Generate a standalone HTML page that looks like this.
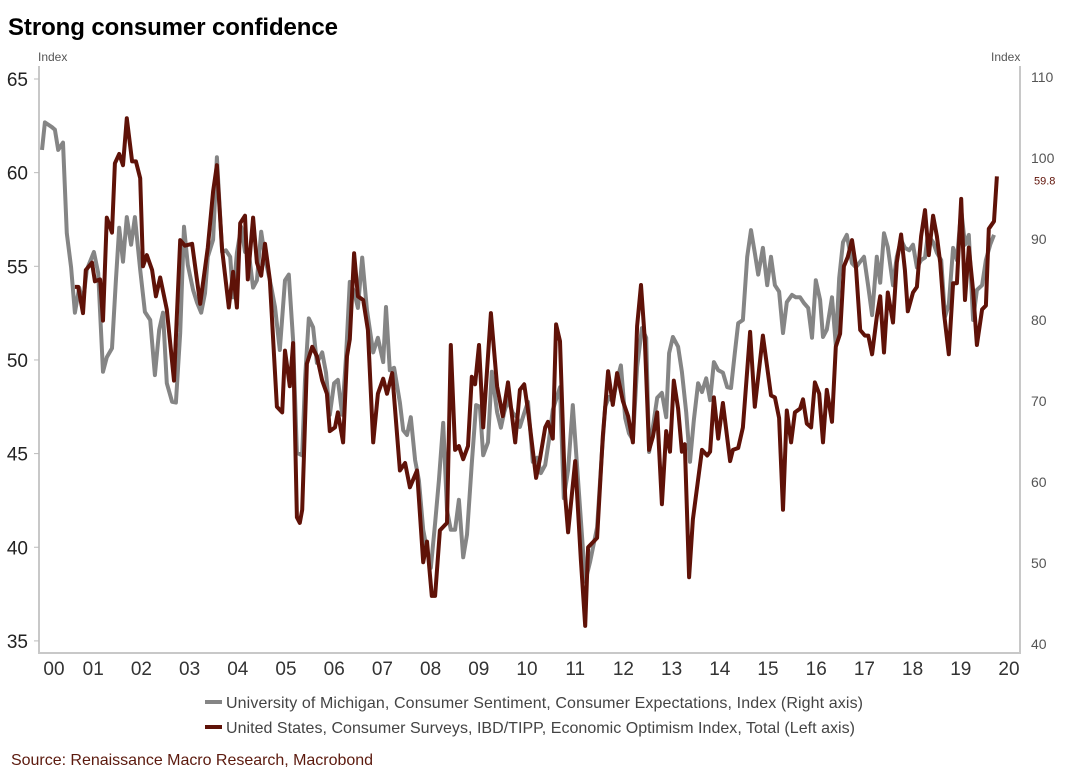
<!DOCTYPE html>
<html><head><meta charset="utf-8"><style>
body{margin:0;background:#fff;width:1069px;height:782px;overflow:hidden;font-family:"Liberation Sans",sans-serif}
svg{position:absolute;left:0;top:0}
</style></head><body>
<svg id="c" width="1069" height="782">
<text x="8" y="35" font-size="24" font-weight="bold" fill="#000" textLength="330">Strong consumer confidence</text>
<text x="38" y="61" font-size="12" fill="#555">Index</text>
<text x="991" y="61" font-size="12" fill="#555">Index</text>
<line x1="39" y1="66" x2="39" y2="653" stroke="#c8c8c8" stroke-width="2"/>
<line x1="1020" y1="66" x2="1020" y2="653" stroke="#c8c8c8" stroke-width="2"/>
<line x1="38" y1="653" x2="1021" y2="653" stroke="#c8c8c8" stroke-width="2"/>
<g id="ticks"></g>
<g id="series"></g>
<g>
<rect x="205" y="700" width="17" height="4" fill="#858585"/>
<text x="226" y="708" font-size="16" fill="#444" textLength="637">University of Michigan, Consumer Sentiment, Consumer Expectations, Index (Right axis)</text>
<rect x="205" y="725" width="17" height="4" fill="#5f1208"/>
<text x="226" y="733" font-size="16" fill="#444" textLength="629">United States, Consumer Surveys, IBD/TIPP, Economic Optimism Index, Total (Left axis)</text>
</g>
<text x="11" y="765" font-size="16" fill="#5c1a0e" textLength="362">Source: Renaissance Macro Research, Macrobond</text>
</svg>
<script>
const leftTicks=[35,40,45,50,55,60,65];
const rightTicks=[40,50,60,70,80,90,100,110];
const yearLabels=["00","01","02","03","04","05","06","07","08","09","10","11","12","13","14","15","16","17","18","19","20"];
const ibdDates=[.69,.76,.86,.92,1.05,1.11,1.22,1.28,1.36,1.47,1.53,1.62,1.70,1.78,1.89,1.97,2.06,2.12,2.20,2.31,2.39,2.48,2.62,2.77,2.90,3.00,3.15,3.32,3.48,3.59,3.67,3.78,3.92,4.01,4.09,4.16,4.26,4.32,4.43,4.51,4.60,4.68,4.78,4.93,5.04,5.10,5.20,5.27,5.35,5.41,5.46,5.56,5.67,5.77,5.88,5.98,6.04,6.15,6.21,6.32,6.40,6.46,6.55,6.63,6.74,6.84,6.95,7.05,7.16,7.24,7.35,7.51,7.62,7.72,7.87,8.00,8.08,8.18,8.25,8.35,8.50,8.58,8.67,8.75,8.84,8.94,9.02,9.09,9.17,9.26,9.42,9.55,9.67,9.78,9.93,10.03,10.12,10.20,10.37,10.45,10.56,10.62,10.72,10.79,10.87,10.98,11.04,11.19,11.31,11.40,11.46,11.65,11.77,11.88,11.98,12.07,12.19,12.30,12.40,12.49,12.57,12.65,12.74,12.82,12.91,13.01,13.10,13.18,13.26,13.35,13.43,13.49,13.58,13.66,13.85,13.96,14.02,14.10,14.19,14.29,14.44,14.50,14.61,14.71,14.86,14.96,15.13,15.30,15.38,15.47,15.55,15.63,15.72,15.80,15.91,15.97,16.05,16.14,16.22,16.31,16.39,16.47,16.58,16.66,16.75,16.83,16.91,17.00,17.08,17.17,17.27,17.34,17.42,17.52,17.59,17.67,17.75,17.86,17.94,18.03,18.11,18.17,18.28,18.36,18.45,18.53,18.61,18.70,18.78,18.85,18.93,19.03,19.12,19.20,19.29,19.37,19.45,19.54,19.62,19.73,19.81,19.87,19.98,20.04];
const ibdValues=[53.9,53.9,52.5,54.8,55.2,54.2,54.3,52.1,57.6,56.8,60.5,61.0,60.4,62.9,60.6,60.6,59.7,55.0,55.6,54.8,53.4,54.4,52.7,48.9,56.4,56.1,56.2,53.0,56.0,59.0,60.4,55.9,52.8,54.7,52.8,57.3,57.7,54.3,57.6,55.2,54.5,56.2,54.3,47.5,47.2,50.5,48.6,50.9,41.6,41.3,42.0,49.8,50.7,50.2,48.9,48.2,46.2,46.4,47.2,45.6,50.2,51.1,55.7,53.4,53.2,51.6,45.6,48.2,49.0,48.2,49.3,44.1,44.5,43.2,44.1,39.2,40.3,37.4,37.4,40.9,41.3,50.8,45.2,45.4,44.7,45.4,49.1,48.7,50.8,46.4,52.5,48.6,47.0,48.8,45.6,48.4,48.7,47.3,43.7,44.7,46.4,46.7,45.8,51.9,51.0,42.7,40.8,44.6,39.3,35.8,40.0,40.5,45.9,49.4,47.6,49.3,47.8,47.0,45.6,51.8,54.0,51.1,45.2,45.9,47.2,42.3,46.2,45.1,48.9,47.4,45.1,45.5,38.4,41.5,45.2,44.9,45.1,48.0,45.8,47.7,44.6,45.2,45.3,46.4,51.5,47.5,51.3,48.1,48.0,46.9,42.0,47.3,45.6,47.2,47.4,47.9,46.6,46.4,48.8,48.2,45.6,48.4,46.7,50.7,51.4,55.0,55.5,56.4,55.0,51.6,51.3,51.3,50.3,52.3,53.4,50.4,53.6,52.0,55.2,56.7,54.8,52.6,53.6,53.9,56.6,58.0,55.6,57.7,56.6,55.2,52.5,50.3,54.1,54.1,58.6,53.2,56.0,53.7,50.8,52.7,52.9,57.0,57.4,59.8];
const umDates=[0,.06,.21,.27,.34,.44,.52,.61,.69,.78,.86,.94,1.09,1.18,1.28,1.36,1.47,1.55,1.62,1.70,1.78,1.87,1.95,2.06,2.16,2.27,2.37,2.46,2.54,2.62,2.73,2.81,2.90,2.98,3.06,3.17,3.25,3.34,3.42,3.48,3.59,3.67,3.78,3.86,3.95,4.01,4.09,4.18,4.26,4.34,4.43,4.51,4.60,4.68,4.81,4.89,4.99,5.10,5.18,5.27,5.35,5.46,5.52,5.60,5.69,5.77,5.88,5.96,6.04,6.13,6.21,6.30,6.38,6.46,6.55,6.63,6.72,6.82,6.95,7.05,7.16,7.22,7.30,7.39,7.51,7.58,7.66,7.74,7.83,7.91,8.00,8.08,8.16,8.25,8.33,8.42,8.50,8.58,8.67,8.75,8.84,8.92,9.02,9.11,9.19,9.26,9.36,9.44,9.55,9.63,9.70,9.78,9.88,9.97,10.03,10.12,10.20,10.30,10.39,10.47,10.56,10.64,10.72,10.87,10.95,11.04,11.14,11.23,11.33,11.40,11.50,11.65,11.75,11.82,11.90,11.98,12.07,12.15,12.24,12.32,12.40,12.49,12.59,12.68,12.74,12.82,12.91,13.01,13.10,13.16,13.24,13.35,13.43,13.52,13.60,13.68,13.77,13.85,13.94,14.02,14.10,14.19,14.29,14.38,14.46,14.54,14.61,14.71,14.80,14.88,14.96,15.03,15.13,15.22,15.30,15.38,15.47,15.55,15.63,15.74,15.82,15.91,15.99,16.08,16.16,16.24,16.33,16.39,16.47,16.58,16.66,16.73,16.81,16.89,17.00,17.08,17.17,17.25,17.34,17.42,17.52,17.59,17.67,17.75,17.86,17.94,18.03,18.11,18.20,18.28,18.36,18.45,18.53,18.59,18.70,18.78,18.87,18.95,19.03,19.12,19.20,19.29,19.37,19.45,19.54,19.62,19.73,19.81,19.90,19.98];
const umValues=[101.0,104.4,103.8,103.5,101.0,101.9,90.7,86.5,80.9,84.0,82.2,86.2,88.4,85.8,73.6,75.4,76.5,84.9,91.4,87.2,92.7,89.3,92.7,86.2,81.0,80.0,73.2,78.8,80.9,72.2,69.9,69.8,78.4,91.5,86.8,83.7,82.2,80.9,83.3,87.8,89.9,100.1,88.4,88.6,87.8,82.8,88.3,91.5,88.4,88.3,84.0,84.9,90.9,87.7,84.1,81.6,76.3,84.9,85.6,77.5,63.6,63.3,72.6,80.2,79.1,74.7,76.0,73.5,68.3,72.2,72.6,68.3,75.4,84.7,83.5,81.5,87.7,81.2,76.0,77.8,74.8,81.6,73.8,74.1,69.8,66.4,65.8,68.0,62.7,60.2,54.1,51.6,49.4,54.9,60.2,67.3,56.5,54.1,54.1,57.8,50.7,53.5,62.3,69.5,69.3,63.3,64.9,73.6,68.6,66.7,68.6,70.1,68.5,68.0,66.8,68.5,69.9,62.5,63.0,61.1,62.1,65.2,68.9,71.7,58.0,61.5,69.5,61.9,53.5,47.7,50.1,54.4,63.6,69.3,70.5,69.9,72.6,74.4,67.9,66.0,65.2,74.2,79.0,77.8,63.7,66.8,70.4,71.0,68.0,75.9,77.9,76.7,73.6,68.6,62.5,67.7,72.2,71.1,72.8,70.1,74.8,73.8,73.5,71.7,71.6,75.9,79.6,80.0,87.8,91.1,88.3,85.6,88.9,84.3,87.8,84.3,83.5,78.4,82.2,83.1,82.8,82.8,82.1,81.5,77.8,84.9,82.5,77.9,78.8,82.8,76.9,85.2,89.6,90.5,87.0,86.5,87.2,87.8,84.1,80.6,87.8,84.6,90.7,89.0,84.3,87.8,89.9,88.9,88.6,89.3,86.5,87.4,87.7,90.5,89.6,88.3,87.4,80.4,81.9,88.9,87.4,93.6,89.3,90.5,80.0,83.7,84.3,87.4,89.3,90.5];
const lastLabel="59.8";

const NS="http://www.w3.org/2000/svg";
function xScale(t){return 42+47.65*t;}
function yLeft(v){return 79+(65-v)*18.73;}
function yRight(v){return 77+(110-v)*8.1;}
function xLabel(i){return i===0?54:45+48.2*i;}
const tk=document.getElementById('ticks');
const sr=document.getElementById('series');
function mk(tag,attrs,parent){const e=document.createElementNS(NS,tag);for(const k in attrs)e.setAttribute(k,attrs[k]);parent.appendChild(e);return e;}

leftTicks.forEach(v=>{
  const y=yLeft(v);
  const l=mk('line',{x1:34,x2:39,y1:y,y2:y,stroke:'#bbb','stroke-width':1},tk);
  
  
  const t=mk('text',{x:28,y:y+7,'font-size':19,'text-anchor':'end',fill:'#222'},tk);
  t.textContent=v;
  
  
});
rightTicks.forEach(v=>{
  const y=yRight(v);
  const t=mk('text',{x:1031,y:y+5,'font-size':14,fill:'#555'},tk);
  t.textContent=v;
  
  
});
yearLabels.forEach((s,i)=>{
  const t=mk('text',{x:xLabel(i),y:675,'font-size':19,'text-anchor':'middle',fill:'#333'},tk);
  t.textContent=s;
  
  
});
function path(dates,vals,ys){return dates.map((d,i)=>(i?'L':'M')+xScale(d).toFixed(1)+' '+ys(vals[i]).toFixed(1)).join(' ');}
const g=mk('path',{d:path(umDates,umValues,yRight),fill:'none',stroke:'#858585','stroke-width':4,'stroke-linejoin':'round'},sr);


const r=mk('path',{d:path(ibdDates,ibdValues,yLeft),fill:'none',stroke:'#5f1208','stroke-width':4,'stroke-linejoin':'round'},sr);


const lv=mk('text',{x:1034,y:yLeft(ibdValues[ibdValues.length-1])+8,'font-size':11,fill:'#5f1208'},sr);
lv.textContent=lastLabel;


</script>
</body></html>
